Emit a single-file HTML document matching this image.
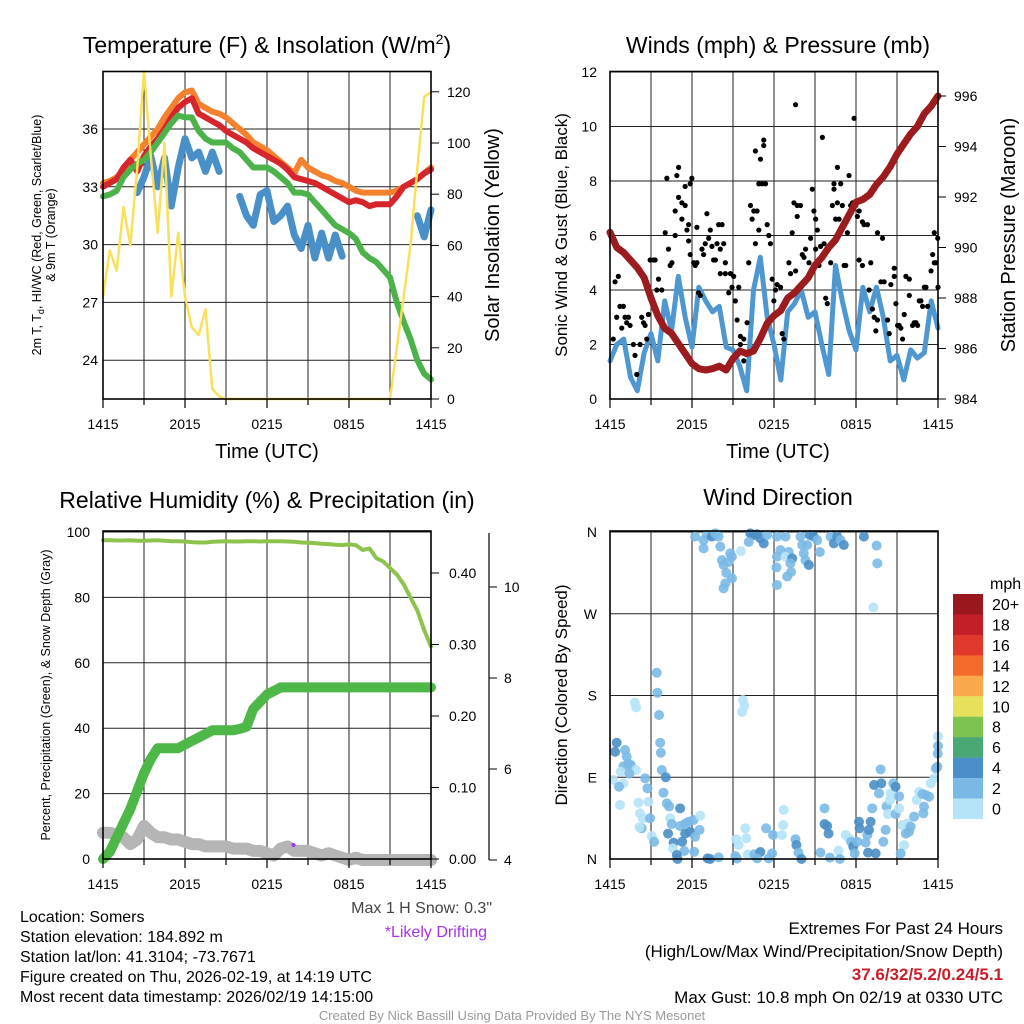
<!DOCTYPE html>
<html><head><meta charset="utf-8"><style>
html,body{margin:0;padding:0;background:#fff;}
svg{display:block;font-family:"Liberation Sans",Arial,sans-serif;}
</style></head><body>
<svg id="chart" width="1024" height="1024" viewBox="0 0 1024 1024" xmlns="http://www.w3.org/2000/svg">
<rect width="1024" height="1024" fill="#fff"/>
<g id="layer-grid"></g>
<g id="layer-data"></g>
<g id="layer-axes"></g>
<text x="267" y="53" font-size="23" text-anchor="middle">Temperature (F) &amp; Insolation (W/m<tspan dy="-9" font-size="14">2</tspan><tspan dy="9">)</tspan></text>
<text x="778" y="53" font-size="23" text-anchor="middle">Winds (mph) &amp; Pressure (mb)</text>
<text x="267" y="508" font-size="23" text-anchor="middle">Relative Humidity (%) &amp; Precipitation (in)</text>
<text x="778" y="505" font-size="23" text-anchor="middle">Wind Direction</text>
<text x="267" y="458" font-size="20" text-anchor="middle">Time (UTC)</text>
<text x="778" y="458" font-size="20" text-anchor="middle">Time (UTC)</text>
<text transform="translate(41,235) rotate(-90)" font-size="12.5" text-anchor="middle">2m T, T<tspan dy="3" font-size="9">d</tspan><tspan dy="-3">, HI/WC (Red, Green, Scarlet/Blue)</tspan></text>
<text transform="translate(55,235) rotate(-90)" font-size="12.5" text-anchor="middle">&amp; 9m T (Orange)</text>
<text transform="translate(499,235) rotate(-90)" font-size="20" text-anchor="middle">Solar Insolation (Yellow)</text>
<text transform="translate(567,235) rotate(-90)" font-size="17" text-anchor="middle">Sonic Wind &amp; Gust (Blue, Black)</text>
<text transform="translate(1015,235) rotate(-90)" font-size="20" text-anchor="middle">Station Pressure (Maroon)</text>
<text transform="translate(50,695) rotate(-90)" font-size="12.5" text-anchor="middle">Percent, Precipitation (Green), &amp; Snow Depth (Gray)</text>
<text transform="translate(567,695) rotate(-90)" font-size="17" text-anchor="middle">Direction (Colored By Speed)</text>
<g id="colorbar"></g>
<text x="990" y="589" font-size="16">mph</text>
<g font-size="16">
<text x="20" y="922">Location: Somers</text>
<text x="20" y="942">Station elevation: 184.892 m</text>
<text x="20" y="962">Station lat/lon: 41.3104; -73.7671</text>
<text x="20" y="982">Figure created on Thu, 2026-02-19, at 14:19 UTC</text>
<text x="20" y="1002">Most recent data timestamp: 2026/02/19 14:15:00</text>
</g>
<text x="492" y="913" font-size="16" fill="#444" text-anchor="end">Max 1 H Snow: 0.3"</text>
<text x="487" y="937" font-size="16" fill="#a634ee" text-anchor="end">*Likely Drifting</text>
<g font-size="17" text-anchor="end">
<text x="1003" y="934">Extremes For Past 24 Hours</text>
<text x="1003" y="957">(High/Low/Max Wind/Precipitation/Snow Depth)</text>
<text x="1003" y="980" fill="#c8202a" font-weight="bold">37.6/32/5.2/0.24/5.1</text>
<text x="1003" y="1003">Max Gust: 10.8 mph On 02/19 at 0330 UTC</text>
</g>
<text x="512" y="1020" font-size="13" fill="#999" text-anchor="middle">Created By Nick Bassill Using Data Provided By The NYS Mesonet</text>
</svg>
<script>
var timeLabels = ["1415","2015","0215","0815","1415"];
var orangeT = [33.2,33.3,33.5,33.8,34.4,34.8,35.2,35.6,36.0,36.6,37.1,37.6,37.9,38.0,37.3,37.1,36.9,36.8,36.6,36.3,36.0,35.7,35.3,35.1,34.9,34.6,34.3,34.0,33.7,34.4,34.0,33.8,33.6,33.5,33.3,33.2,33.0,32.8,32.7,32.7,32.7,32.7,32.7,32.8,33.0,33.2,33.4,33.7,34.0];
var redT = [33.0,33.2,33.4,34.0,34.4,33.8,34.6,35.1,35.5,36.0,36.6,37.1,37.4,37.6,36.8,36.6,36.4,36.2,35.9,35.7,35.5,35.3,35.0,34.8,34.6,34.4,34.2,33.9,33.5,33.4,33.3,33.2,33.0,32.8,32.6,32.4,32.2,32.3,32.2,32.0,32.1,32.1,32.1,32.5,33.0,33.2,33.4,33.7,33.9];
var greenTd = [32.5,32.6,32.8,33.5,33.9,34.2,34.4,34.8,35.3,35.8,36.3,36.7,36.6,36.6,35.9,35.5,35.3,35.3,35.3,35.0,34.8,34.4,34.0,34.0,34.0,33.8,33.5,33.2,32.7,32.7,32.6,32.2,31.8,31.4,31.0,30.8,30.6,30.3,29.6,29.3,29.1,28.7,28.3,27.0,26.0,25.1,24.0,23.3,23.0];
var blueWC = [31.5,null,null,null,null,32.7,33.5,34.6,33.0,34.5,32.0,34.0,35.5,34.5,34.8,33.8,34.8,33.8,null,null,32.5,31.5,31.0,32.6,32.8,31.2,31.5,32.0,30.5,29.8,31.0,29.3,30.6,29.3,30.5,29.4,null,29.2,null,31.2,null,null,30.9,null,null,null,31.5,30.4,31.8];
var insolation = [40,58,50,75,60,90,128,95,65,100,40,65,40,28,25,35,4,1,0,0,0,0,0,0,0,0,0,0,0,0,0,0,0,0,0,0,0,0,0,0,0,0,0,20,40,60,90,118,120];
var windSpeed = [1.4,2.0,2.2,0.8,0.3,1.7,2.4,1.4,3.6,2.5,4.5,3.0,1.9,4.1,3.6,3.2,3.4,1.9,1.8,1.2,0.3,4.0,5.2,3.0,2.0,0.7,3.2,3.5,4.0,3.0,3.2,2.0,0.9,4.9,3.6,2.5,1.8,4.1,3.2,4.1,3.0,1.4,1.6,0.7,1.8,1.5,1.7,3.6,2.6];
var pressure = [990.6,990.0,989.8,989.5,989.2,988.8,988.0,987.3,986.8,986.6,986.2,985.8,985.4,985.2,985.15,985.2,985.3,985.15,985.6,985.9,985.8,985.9,986.4,987.0,987.3,987.5,988.0,988.2,988.5,988.8,989.3,989.6,990.0,990.3,990.8,991.3,991.8,991.9,992.1,992.5,992.8,993.2,993.7,994.1,994.5,994.8,995.3,995.6,996.0];
var gustHour = [0.24,0.37,0.61,0.49,0.73,0.98,1.10,0.86,1.22,1.35,1.47,1.71,1.83,1.96,2.20,2.32,2.45,2.57,2.69,2.81,2.94,3.18,3.30,3.43,3.55,3.79,4.04,4.16,4.28,4.40,4.53,4.77,4.77,4.89,5.02,5.02,5.26,5.26,5.50,5.50,5.63,5.75,5.75,5.87,5.87,5.99,6.12,6.24,6.36,6.36,6.48,6.61,6.73,6.85,6.97,7.09,7.22,7.34,7.46,7.58,7.71,7.83,7.95,8.07,8.07,8.20,8.32,8.44,8.44,8.69,8.81,8.93,9.05,9.17,9.30,9.42,9.54,9.54,9.79,9.79,10.03,10.15,10.28,10.40,10.52,10.64,10.64,10.76,10.89,10.89,11.01,11.13,11.25,11.25,11.38,11.50,11.62,11.74,11.87,11.99,12.11,12.23,12.48,12.60,12.72,13.09,13.21,13.33,13.46,13.58,13.70,13.70,13.94,14.07,14.19,14.31,14.56,14.68,14.80,14.92,15.05,15.05,15.17,15.29,15.41,15.54,15.66,15.78,15.90,16.15,16.27,16.39,16.39,16.51,16.64,16.64,16.76,16.88,17.00,17.13,17.25,17.37,17.49,17.49,17.61,17.74,17.86,17.98,18.10,18.23,18.35,18.47,18.59,18.23,18.47,18.84,18.96,19.08,19.20,19.33,19.45,19.57,19.57,19.94,19.82,20.06,20.31,20.43,20.55,20.80,20.80,20.92,21.04,21.16,21.28,21.41,21.53,21.65,21.90,21.90,22.14,22.26,22.39,22.51,22.63,22.75,22.87,23.00,23.12,23.24,23.49,23.61,23.73,23.73,23.85,23.98,24.0,13.58];
var gustSpeed = [2.2,4.3,4.5,3.0,3.4,3.4,3.0,2.6,2.8,3.0,2.7,2.0,1.6,0.9,2.0,3.0,2.8,2.7,2.2,3.1,5.1,5.1,5.1,4.0,4.4,4.0,6.1,8.1,5.5,4.9,5.0,6.0,6.9,8.2,8.5,7.4,6.6,7.2,7.1,7.8,6.2,6.4,5.8,7.9,5.3,8.1,5.0,4.9,5.0,6.3,3.9,3.8,5.5,5.3,5.7,6.8,5.9,6.2,5.6,5.1,5.1,5.7,6.4,5.5,4.6,6.4,5.7,5.0,4.6,3.9,4.6,4.1,4.5,3.6,2.9,4.1,2.3,2.0,2.2,1.4,2.8,5.0,7.1,6.6,6.9,9.1,5.7,6.9,6.2,7.9,8.8,7.9,9.5,9.3,7.9,6.4,6.0,5.7,4.4,3.6,4.0,4.2,4.1,2.4,2.2,5.0,4.6,6.1,7.2,4.7,7.1,6.7,7.1,5.3,5.2,5.5,5.0,5.9,7.7,6.9,5.5,6.6,6.2,4.9,5.6,9.6,5.7,3.7,3.5,5.0,7.1,7.9,7.7,6.6,8.5,7.2,6.6,7.9,7.1,4.9,4.9,6.1,6.7,8.2,7.1,7.2,10.3,7.1,6.7,6.9,7.3,6.5,6.4,5.1,4.9,6.4,4.0,5.0,3.3,3.0,2.5,2.9,6.1,5.9,4.3,4.3,2.9,2.4,4.2,4.8,4.5,3.5,2.7,2.7,2.6,2.2,3.1,4.5,4.4,3.8,2.7,2.8,2.8,2.7,3.6,3.6,3.4,4.1,4.1,3.4,4.7,5.3,6.1,5.0,5.0,5.9,4.1,10.8];
var humidity = [97.5,97.5,97.4,97.4,97.5,97.3,97.3,97.4,97.5,97.3,97.2,97.2,97.1,96.9,96.8,96.8,97.0,97.1,97.2,97.1,97.1,97.2,97.2,97.1,97.2,97.2,97.2,97.1,97.0,96.8,96.7,96.6,96.4,96.3,96.1,96.0,96.2,96.0,94.5,95.0,92.0,91.0,89.0,87.0,84.0,80.0,76.0,70.0,65.0];
var precip = [0,0.01,0.03,0.05,0.07,0.095,0.12,0.14,0.155,0.155,0.155,0.155,0.16,0.165,0.17,0.175,0.18,0.18,0.18,0.18,0.182,0.185,0.21,0.22,0.23,0.235,0.24,0.24,0.24,0.24,0.24,0.24,0.24,0.24,0.24,0.24,0.24,0.24,0.24,0.24,0.24,0.24,0.24,0.24,0.24,0.24,0.24,0.24,0.24];
var snowDepth = [4.6,4.6,4.55,4.5,4.35,4.45,4.75,4.6,4.5,4.5,4.45,4.45,4.4,4.35,4.35,4.3,4.3,4.3,4.3,4.25,4.25,4.25,4.2,4.2,4.15,4.1,4.25,4.3,4.2,4.2,4.2,4.15,4.1,4.15,4.1,4.05,4.0,4.05,4.0,4.0,4.0,4.0,4.0,4.0,4.0,4.0,4.0,4.0,4.0];
var driftHour = [13.94];
var driftSnow = [4.33];
var dirHour = [6.23,6.85,7.09,7.46,7.70,7.95,6.85,8.07,8.19,8.31,8.80,8.92,8.68,8.51,8.92,8.44,8.31,9.58,10.27,10.51,10.76,11.00,11.25,11.49,10.15,12.22,12.84,12.47,12.22,13.08,12.84,13.33,13.2,12.18,13.25,12.96,12.22,13.94,14.62,14.91,15.16,14.06,14.43,14.18,14.30,14.55,15.35,16.14,16.63,16.38,16.87,17.11,18.58,19.51,19.56,19.27,
3.42,3.47,3.59,1.81,1.91,9.73,9.83,9.66,
0.49,0.37,1.10,1.22,1.34,0.98,1.52,1.91,0.78,1.42,0.24,0.98,0.66,2.57,2.74,3.67,3.72,3.79,4.08,3.91,0.73,2.08,2.81,2.20,2.40,2.93,2.32,2.15,3.06,3.23,4.16,4.33,5.13,4.40,4.52,4.25,5.13,5.50,5.75,6.11,5.50,5.87,6.55,6.60,6.23,4.65,5.28,4.60,5.43,4.89,4.94,6.16,7.14,7.33,7.95,9.24,9.41,9.17,9.29,9.90,9.98,10.07,10.56,11.00,10.76,11.42,11.93,11.61,11.86,12.71,12.67,12.59,13.57,13.64,13.79,14.01,15.40,15.70,15.70,15.89,15.99,16.09,16.72,16.82,17.24,17.48,17.65,17.80,17.90,18.09,18.22,18.26,18.70,18.83,18.95,19.07,18.88,19.44,19.19,19.32,19.68,19.85,19.80,20.0,20.17,20.24,20.34,20.49,20.54,20.73,20.90,21.15,20.90,21.15,21.39,21.52,21.64,21.76,21.88,22.0,22.25,22.44,22.62,22.86,22.98,23.1,22.93,23.35,23.47,23.72,23.84,23.96,23.98,24.0,24.0,21.27];
var dirDeg = [354.9,351,356.7,354.9,358.5,354.9,342,343.9,329,323.7,336.5,332.9,327,315,309,303.5,298,339,358.5,356.7,357.6,353,347.5,356.7,349,354.9,354.9,340,332.9,338,332.9,331,325.5,321,316,311,301.7,354.9,356.7,354.9,351,345.7,345.7,336.5,329,323.7,338,354.9,354.9,347.5,351,345.7,354.9,345,325.5,277,
205,183,158.5,172,167,175,168.5,162,
128,118,120,112.7,105,102,103.5,98,96,94,87,83.3,79.6,88.8,77.8,128,117,98,90,73,59.5,62,63,50.3,44.8,44.8,33.8,34.9,25.3,19,61.3,58,55.8,44.8,38.5,28,36.3,39,41,43,28,30,32,47.7,24.6,18,19,11.7,8.8,4.4,0,8,0.7,0,1.8,21.7,15.4,3.3,0.4,33.8,22.8,5.1,5.1,7.7,0.7,33.8,26.4,0.7,6.2,54,37.4,26.4,21.7,15.4,7,0,7,55.8,38.5,36.3,28,1.5,9.2,0,26.4,22.8,19,13.6,6.2,19,41,33.8,18,26.4,32,41,7,6.2,55.8,81.5,72.3,83.3,98.7,19,32,58,49.5,65,72.3,83.3,79.6,69,49.5,55.8,37.4,15.4,28,39,30,35.6,46.6,65,74,71.6,57.6,70.5,50.3,68.6,83.3,88.8,99.8,101.7,116,124.4,135,6.2];
var dirSpeed = [3,3,3,5,3,3,3,3,3,3,3,3,3,3,3,3,3,1,5,5,5,5,5,3,3,3,3,3,3,3,1,5,3,3,3,3,3,3,5,5,3,3,3,3,3,5,3,3,5,5,3,5,5,3,3,1,
3,3,3,1,1,1,1,1,
5,5,3,3,3,3,3,1,1,3,1,1,3,3,3,3,3,3,5,3,1,1,1,1,1,3,3,1,1,3,3,3,5,1,3,5,3,3,3,3,5,5,3,1,3,5,5,1,3,5,5,3,5,5,3,1,1,3,3,1,1,1,3,5,3,3,3,3,3,1,1,1,3,5,3,5,3,3,5,5,5,3,1,3,1,1,3,5,3,3,5,5,3,3,5,5,5,5,3,5,3,5,3,3,3,3,1,1,1,3,5,3,3,1,1,1,3,1,3,3,3,1,1,3,3,3,3,3,1,1,3,3,3,3,1,3,1,3,5,5,3,3,3,1];
var cbLabels = ["20+","18","16","14","12","10","8","6","4","2","0"];
var cbColors = ["#9a171d","#c21f28","#e0392c","#f36a2b","#f9a94a","#e7e05b","#7dc350","#49a873","#4a8fc7","#7ab9e5","#b5e3f7"];

var NS = "http://www.w3.org/2000/svg";
var gGrid = document.getElementById('layer-grid');
var gData = document.getElementById('layer-data');
var gAxes = document.getElementById('layer-axes');
function mk(tag, attrs, parent){ var e=document.createElementNS(NS,tag); for(var k in attrs) e.setAttribute(k, attrs[k]); parent.appendChild(e); return e; }
var P = {
  tl:{x0:103,x1:431,y0:71.5,y1:399},
  tr:{x0:610,x1:938,y0:71.5,y1:399},
  bl:{x0:103,x1:431,y0:531,y1:859},
  br:{x0:610,x1:938,y0:531,y1:859}
};
function xs(p,h){ return p.x0 + h/24*(p.x1-p.x0); }
function yT(t){ return 129 - (t-36)*19.27; }
function yI(v){ return 399 - v*2.56; }
function yW(v){ return 399 - v*27.25; }
function yP(p){ return 399 - (p-984)*25.25; }
function yR(r){ return 859 - r*3.27; }
function yPr(v){ return 859 - v*715; }
function ySn(s){ return 860 - (s-4)*45.5; }
function yD(d){ return 859 - d*0.9083; }
function hourOf(i){ return i*0.5; }

function panelGrid(p, yVals, yFn, name){
  for (var k=0;k<=8;k++){
    var x = p.x0 + k*(p.x1-p.x0)/8;
    var l = mk('line',{x1:x,x2:x,y1:p.y0,y2:p.y1,stroke:'#222','stroke-width':1},gGrid);
    
    
    var t = mk('line',{x1:x,x2:x,y1:p.y1,y2:p.y1+(k%2==0?9:6),stroke:'#000','stroke-width':1.2},gAxes);
    
    
  }
  yVals.forEach(function(v){
    var y = yFn(v);
    var l = mk('line',{x1:p.x0,x2:p.x1,y1:y,y2:y,stroke:'#222','stroke-width':1},gGrid);
    
    
  });
  var r = mk('rect',{x:p.x0,y:p.y0,width:p.x1-p.x0,height:p.y1-p.y0,fill:'none',stroke:'#000','stroke-width':1.6},gAxes);
  
  
  timeLabels.forEach(function(lbl,k){
    var x = p.x0 + k*(p.x1-p.x0)/4;
    var t = mk('text',{x:x,y:p.y1+30,'font-size':14,'text-anchor':'middle'},gAxes);
    t.textContent = lbl;
    
    
  });
}
function tickLabels(vals, yFn, x, anchor, fmt, name){
  vals.forEach(function(v){
    var t = mk('text',{x:x,y:yFn(v)+5,'font-size':14,'text-anchor':anchor},gAxes);
    t.textContent = fmt(v);
    
    
  });
}
function rightTicks(p, vals, yFn, name){
  vals.forEach(function(v){
    var y=yFn(v);
    var l=mk('line',{x1:p.x1,x2:p.x1+8,y1:y,y2:y,stroke:'#000','stroke-width':1},gAxes);
    
    
  });
}
var tempTicks=[24,27,30,33,36], insTicks=[0,20,40,60,80,100,120];
var windTicks=[0,2,4,6,8,10,12], presTicks=[984,986,988,990,992,994,996];
var rhTicks=[0,20,40,60,80,100], prTicks=[0,0.1,0.2,0.3,0.4], snTicks=[4,6,8,10];
var dirTicks=[0,90,180,270,360], dirNames=["N","E","S","W","N"];
panelGrid(P.tl, tempTicks, yT, 'temperature');
panelGrid(P.tr, windTicks, yW, 'wind');
panelGrid(P.bl, rhTicks, yR, 'humidity');
panelGrid(P.br, dirTicks, yD, 'direction');
tickLabels(tempTicks, yT, 98, 'end', function(v){return v;}, 'temperature-tick-label');
tickLabels(insTicks, yI, 447, 'start', function(v){return v;}, 'insolation-tick-label');
rightTicks(P.tl, insTicks, yI, 'insolation-tick');
tickLabels(windTicks, yW, 597, 'end', function(v){return v;}, 'wind-tick-label');
tickLabels(presTicks, yP, 954, 'start', function(v){return v;}, 'pressure-tick-label');
rightTicks(P.tr, presTicks, yP, 'pressure-tick');
tickLabels(rhTicks, yR, 90, 'end', function(v){return v;}, 'humidity-tick-label');
tickLabels(prTicks, yPr, 449, 'start', function(v){return v.toFixed(2);}, 'precip-tick-label');
rightTicks(P.bl, prTicks, yPr, 'precip-tick');
tickLabels(snTicks, ySn, 504, 'start', function(v){return v;}, 'snow-tick-label');
var sa = mk('line',{x1:489,x2:489,y1:533,y2:860,stroke:'#000','stroke-width':1.2},gAxes);


snTicks.forEach(function(v){
  var l=mk('line',{x1:489,x2:497,y1:ySn(v),y2:ySn(v),stroke:'#000','stroke-width':1},gAxes);
  
  
});
dirTicks.forEach(function(v,i){
  var t=mk('text',{x:597,y:yD(v)+5,'font-size':14,'text-anchor':'end'},gAxes);
  t.textContent=dirNames[i];
  
  
});

function linePath(p, vals, yFn){
  var d='', pen=false;
  vals.forEach(function(v,i){
    if (v===null){ pen=false; return; }
    d += (pen?'L':'M') + xs(p,hourOf(i)).toFixed(1) + ',' + yFn(v).toFixed(1);
    pen=true;
  });
  return d;
}
function drawLine(p, vals, yFn, color, w, name){
  var e = mk('path',{d:linePath(p,vals,yFn),fill:'none',stroke:color,'stroke-width':w,'stroke-linecap':'round','stroke-linejoin':'round'},gData);
  
  
  return e;
}
drawLine(P.tl, blueWC, yT, '#4a90c8', 7, 'heat-index-wind-chill-line');
drawLine(P.tl, orangeT, yT, '#f4812e', 6, 'temp-9m-line');
drawLine(P.tl, redT, yT, '#d7262b', 6, 'temp-2m-line');
drawLine(P.tl, greenTd, yT, '#4bb34a', 6, 'dewpoint-line');
drawLine(P.tl, insolation, yI, '#fae05a', 2.5, 'insolation-line');

drawLine(P.tr, windSpeed, yW, '#4e97d0', 5, 'sonic-wind-line');
gustHour.forEach(function(h,i){
  var c = mk('circle',{cx:xs(P.tr,h),cy:yW(gustSpeed[i]),r:2.6,fill:'#000'},gData);
  
  
});
drawLine(P.tr, pressure, yP, '#9b1b1e', 7, 'pressure-line');

drawLine(P.bl, snowDepth, ySn, '#b5b5b5', 12, 'snow-depth-line');
drawLine(P.bl, precip, yPr, '#4db848', 10, 'precipitation-line');
drawLine(P.bl, humidity, yR, '#8dc34d', 4, 'relative-humidity-line');
driftHour.forEach(function(h,i){
  var c = mk('circle',{cx:xs(P.bl,h),cy:ySn(driftSnow[i]),r:2,fill:'#a634ee'},gData);
  
  
});

function speedColor(s){
  var idx = Math.min(10, Math.floor(s/2));
  return cbColors[10-idx];
}
dirHour.forEach(function(h,i){
  var c = mk('circle',{cx:xs(P.br,h),cy:yD(dirDeg[i]),r:5,fill:speedColor(dirSpeed[i]),'fill-opacity':0.9},gData);
  
  
});

var cb = document.getElementById('colorbar');
cbLabels.forEach(function(lbl,i){
  var y = 594 + i*20.45;
  var r = mk('rect',{x:953,y:y,width:30,height:20.6,fill:cbColors[i]},cb);
  
  
  var t = mk('text',{x:992,y:y+16,'font-size':16},cb);
  t.textContent = lbl;
  
  
});
</script>
</body></html>
